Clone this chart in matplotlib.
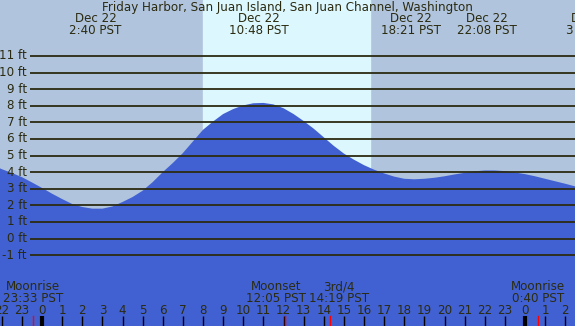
import matplotlib
matplotlib.use("Agg")
import matplotlib.pyplot as plt

# tide height (ft) vs hours since Dec 22 00:00 PST
tide_hours = [-2.5, -2.0, -1.5, -1.0, -0.5, 0.0, 0.5, 1.0, 1.5, 2.0, 2.5, 3.0, 3.5, 4.0,
              4.5, 5.0, 5.5, 6.0, 6.5, 7.0, 7.5, 8.0, 8.5, 9.0, 9.5, 10.0, 10.5, 11.0,
              11.5, 12.0, 12.5, 13.0, 13.5, 14.0, 14.5, 15.0, 15.5, 16.0, 16.5, 17.0,
              17.5, 18.0, 18.5, 19.0, 19.5, 20.0, 20.5, 21.0, 21.5, 22.0, 22.5, 23.0,
              23.5, 24.0, 24.5, 25.0, 25.5, 26.0, 26.5, 27.0]
tide_ft = [4.45, 4.18, 3.95, 3.70, 3.38, 3.05, 2.70, 2.38, 2.08, 1.90, 1.80, 1.80, 1.93, 2.20,
           2.50, 2.88, 3.40, 4.00, 4.55, 5.15, 5.85, 6.55, 7.05, 7.50, 7.80, 8.02, 8.15, 8.17,
           8.08, 7.85, 7.50, 7.08, 6.62, 6.10, 5.58, 5.12, 4.75, 4.42, 4.15, 3.92,
           3.73, 3.60, 3.57, 3.60, 3.66, 3.75, 3.86, 3.96, 4.05, 4.10, 4.10, 4.06,
           3.98, 3.88, 3.75, 3.60, 3.45, 3.30, 3.14, 3.00]

# high / low tide events
event_hours = [2.667, 10.8, 18.35, 22.133, 27.32]
event_dates = ["Dec 22", "Dec 22", "Dec 22", "Dec 22", "Dec 23"]
event_times = ["2:40 PST", "10:48 PST", "18:21 PST", "22:08 PST", "3:19 PST"]

# moon events
moon_hours = [-0.45, 12.083, 14.317, 24.667]
moon_names = ["Moonrise", "Moonset", "3rd/4", "Moonrise"]
moon_times = ["23:33 PST", "12:05 PST", "14:19 PST", "0:40 PST"]
moon_label_shift_px = [0, -9, 9, 0]  # nudge crowded labels apart

sunrise, sunset = 7.98, 16.3
grid_ft = list(range(-1, 12))
title = "Friday Harbor, San Juan Island, San Juan Channel, Washington"

W, H = 575, 326
x0, x1 = -2.087, 26.484
y0, y1 = -5.27, 14.37
px = (x1 - x0) / W  # hours per pixel

NIGHT = "#b0c4de"
DAY = "#ddf7ff"
WATER = "#4161d3"
INK = "#2b2b10"
FS = 8.6

fig = plt.figure(figsize=(W / 100, H / 100), dpi=100)
ax = fig.add_axes([0, 0, 1, 1])
ax.set_xlim(x0, x1)
ax.set_ylim(y0, y1)
ax.axis("off")
fig.patch.set_facecolor(NIGHT)

ax.axvspan(sunrise, sunset, color=DAY, zorder=0)
ax.fill_between(tide_hours, y0 - 1, tide_ft, color=WATER, lw=0, zorder=1)

# horizontal grid lines with labels
xstart = x0 + 30 * px
for v in grid_ft:
    ax.plot([xstart, x1], [v, v], color=INK, lw=1.3, zorder=2, solid_capstyle="butt")
    ax.text(xstart - 3 * px, v, f"{v} ft", ha="right", va="center",
            fontsize=FS, color=INK, zorder=3)

trans = ax.get_xaxis_transform()


def fy(py):
    return 1 - py / H


ax.text((x0 + x1) / 2, fy(7), title, transform=trans, ha="center", va="center",
        fontsize=FS, color=INK)
for h, d, t in zip(event_hours, event_dates, event_times):
    ax.text(h, fy(19), d, transform=trans, ha="center", va="center", fontsize=FS, color=INK)
    ax.text(h, fy(31), t, transform=trans, ha="center", va="center", fontsize=FS, color=INK)

for h, n, t, s in zip(moon_hours, moon_names, moon_times, moon_label_shift_px):
    lx = h + s * px
    ax.text(lx, fy(287), n, transform=trans, ha="center", va="center", fontsize=FS, color=INK)
    ax.text(lx, fy(299), t, transform=trans, ha="center", va="center", fontsize=FS, color=INK)
    ax.plot([h, h], [0, fy(316)], transform=trans, color="#ff0000", lw=1.0, zorder=4)

# hour ticks and labels
for hr in range(-2, 27):
    midnight = hr % 24 == 0
    ax.plot([hr, hr], [0, fy(316)], transform=trans, color="black",
            lw=3.0 if midnight else 1.0, zorder=3, solid_capstyle="butt")
    ax.text(hr, fy(311), str(hr % 24), transform=trans, ha="center", va="center",
            fontsize=FS, color=INK)

fig.savefig("out.png", dpi=100, facecolor=NIGHT)
